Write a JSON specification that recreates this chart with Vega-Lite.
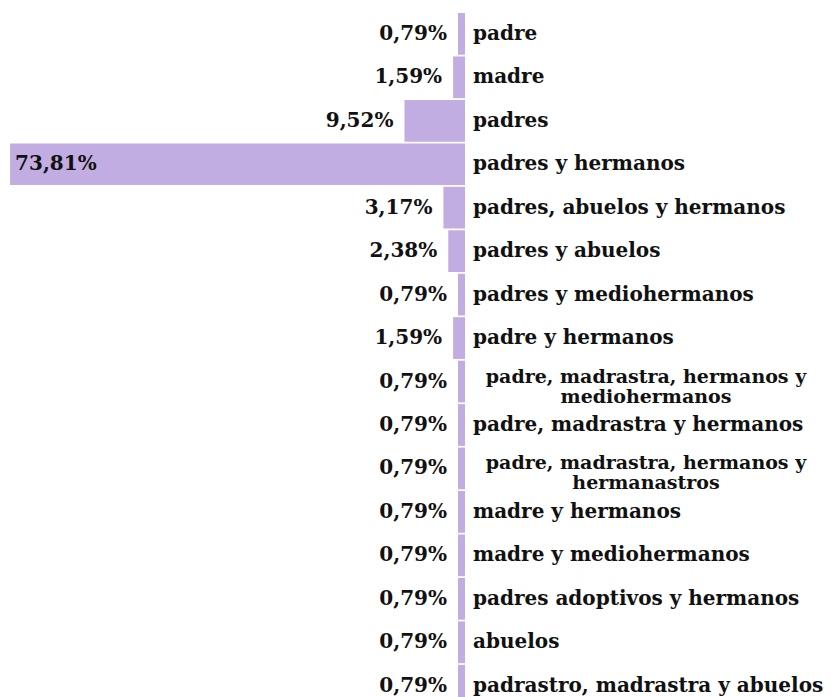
{
  "$schema": "https://vega.github.io/schema/vega-lite/v6.json",
  "autosize": {"type": "none"},
  "padding": {"left": 0, "top": 13, "right": 366, "bottom": 0},
  "width": 465,
  "height": 684,
  "background": "white",
  "data": {
    "values": [
      {"categoria": "padre", "valor": 0.79, "etiqueta": "0,79%"},
      {"categoria": "madre", "valor": 1.59, "etiqueta": "1,59%"},
      {"categoria": "padres", "valor": 9.52, "etiqueta": "9,52%"},
      {"categoria": "padres y hermanos", "valor": 73.81, "etiqueta": "73,81%"},
      {"categoria": "padres, abuelos y hermanos", "valor": 3.17, "etiqueta": "3,17%"},
      {"categoria": "padres y abuelos", "valor": 2.38, "etiqueta": "2,38%"},
      {"categoria": "padres y mediohermanos", "valor": 0.79, "etiqueta": "0,79%"},
      {"categoria": "padre y hermanos", "valor": 1.59, "etiqueta": "1,59%"},
      {"categoria": "padre, madrastra, hermanos y\nmediohermanos", "valor": 0.79, "etiqueta": "0,79%"},
      {"categoria": "padre, madrastra y hermanos", "valor": 0.79, "etiqueta": "0,79%"},
      {"categoria": "padre, madrastra, hermanos y\nhermanastros", "valor": 0.79, "etiqueta": "0,79%"},
      {"categoria": "madre y hermanos", "valor": 0.79, "etiqueta": "0,79%"},
      {"categoria": "madre y mediohermanos", "valor": 0.79, "etiqueta": "0,79%"},
      {"categoria": "padres adoptivos y hermanos", "valor": 0.79, "etiqueta": "0,79%"},
      {"categoria": "abuelos", "valor": 0.79, "etiqueta": "0,79%"},
      {"categoria": "padrastro, madrastra y abuelos", "valor": 0.79, "etiqueta": "0,79%"}
    ]
  },
  "encoding": {
    "y": {
      "field": "categoria",
      "type": "nominal",
      "sort": null,
      "axis": null,
      "scale": {"range": [0, 693.6], "paddingInner": 0.04, "paddingOuter": 0}
    }
  },
  "layer": [
    {
      "mark": {"type": "bar", "color": "#c1ade2"},
      "encoding": {
        "x": {
          "field": "valor",
          "type": "quantitative",
          "axis": null,
          "scale": {"domain": [-0.35, 75.45], "reverse": true, "zero": false, "nice": false}
        },
        "x2": {"datum": -0.35}
      }
    },
    {
      "transform": [{"filter": "datum.valor < 50"}],
      "mark": {"type": "text", "align": "right", "baseline": "middle", "dx": -11, "font": "DejaVu Serif", "fontWeight": "bold", "fontSize": 20, "color": "#111111"},
      "encoding": {
        "x": {"field": "valor", "type": "quantitative"},
        "text": {"field": "etiqueta"}
      }
    },
    {
      "transform": [{"filter": "datum.valor >= 50"}],
      "mark": {"type": "text", "align": "left", "baseline": "middle", "dx": 5, "font": "DejaVu Serif", "fontWeight": "bold", "fontSize": 20, "color": "#111111"},
      "encoding": {
        "x": {"field": "valor", "type": "quantitative"},
        "text": {"field": "etiqueta"}
      }
    },
    {
      "transform": [{"filter": "indexof(datum.categoria, '\\n') < 0"}],
      "mark": {"type": "text", "align": "left", "baseline": "middle", "dx": 8, "font": "DejaVu Serif", "fontWeight": "bold", "fontSize": 20, "color": "#111111"},
      "encoding": {
        "x": {"datum": -0.35},
        "text": {"field": "categoria"}
      }
    },
    {
      "transform": [{"filter": "indexof(datum.categoria, '\\n') >= 0"}],
      "mark": {"type": "text", "align": "center", "baseline": "middle", "dx": 181, "dy": -5, "lineBreak": "\n", "lineHeight": 20, "font": "DejaVu Serif", "fontWeight": "bold", "fontSize": 19, "color": "#111111"},
      "encoding": {
        "x": {"datum": -0.35},
        "text": {"field": "categoria"}
      }
    }
  ],
  "config": {"view": {"stroke": null}}
}
